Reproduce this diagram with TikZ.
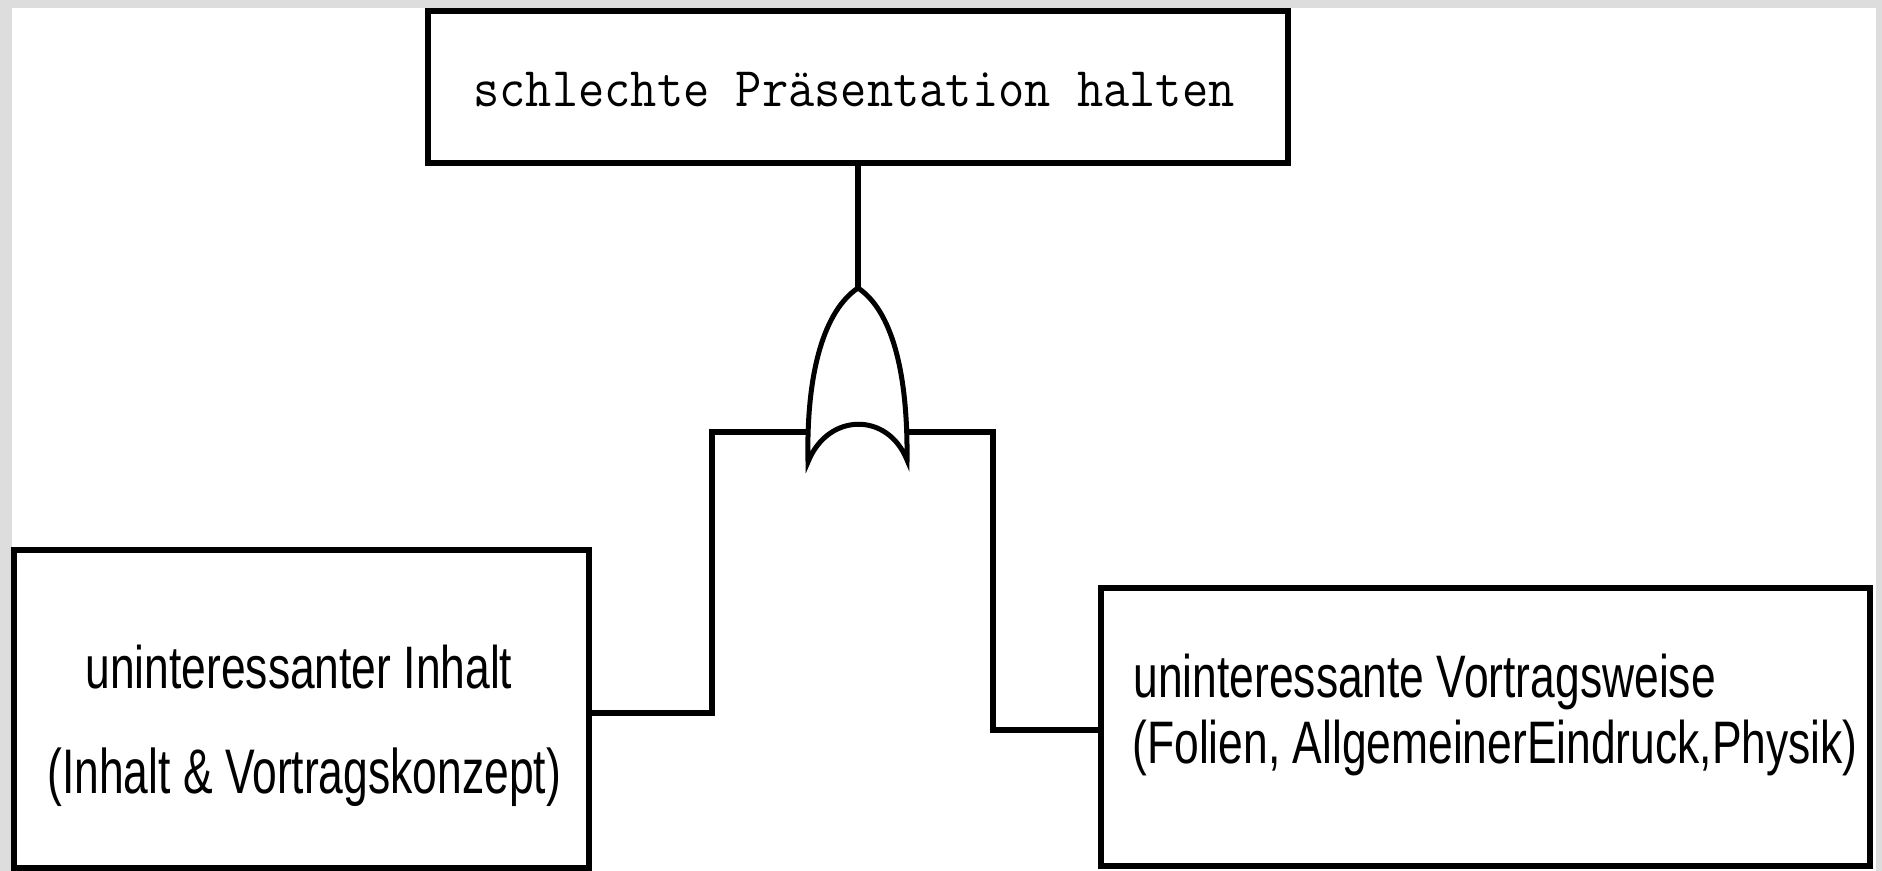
\documentclass[tikz,border=0pt]{standalone}
\usepackage{fontspec}
\usepackage{graphicx}
\newfontfamily\arialfont{Liberation Sans}
\definecolor{framegray}{RGB}{221,221,221}
\begin{document}
\begin{tikzpicture}[x=0.5pt,y=-0.5pt,
  box/.style={draw=black, line width=3pt, rectangle, inner sep=0pt, fill=white},
  conn/.style={line width=3pt, line join=miter},
  gateline/.style={line width=2.5pt, line join=miter},
  lbl/.style={inner sep=0pt, anchor=base west},
]
\useasboundingbox (0,0) rectangle (1882,871);
\fill[framegray] (0,0) rectangle (1882,871);
\fill[white] (12,8) rectangle (1876,871);

% boxes
\node[box, minimum width=430pt, minimum height=76pt] (top) at (858,87) {};
\node[box, minimum width=287.5pt, minimum height=159pt] (left) at (301.5,709) {};
\node[box, minimum width=384.5pt, minimum height=139pt] (right) at (1485.5,727) {};

% texts
\node[lbl, font=\ttfamily\fontsize{28pt}{30pt}\selectfont] (toptext) at (473,107) {\scalebox{0.91}[1]{schlechte Präsentation halten}};
\node[lbl, font=\arialfont\fontsize{30pt}{36pt}\selectfont] (leftA) at (85,688) {\scalebox{0.74}[1]{uninteressanter Inhalt}};
\node[lbl, font=\arialfont\fontsize{31.5pt}{36pt}\selectfont] (leftB) at (47,793) {\scalebox{0.705}[1]{(Inhalt \& Vortragskonzept)}};
\node[lbl, font=\arialfont\fontsize{30pt}{36pt}\selectfont] (rightA) at (1133,697) {\scalebox{0.74}[1]{uninteressante Vortragsweise}};
\node[lbl, font=\arialfont\fontsize{30pt}{36pt}\selectfont] (rightB) at (1132,763) {\scalebox{0.74}[1]{(Folien, AllgemeinerEindruck,Physik)}};

% OR gate
\coordinate (gapex) at (858,288);
\coordinate (gl) at (808,462);
\coordinate (gr) at (907,460);
\coordinate (gil) at (808,432);
\coordinate (gir) at (907,432);
\coordinate (kl) at (712,432);
\coordinate (kr) at (993,432);
\draw[gateline] (gl) .. controls (806,370) and (825,310) .. (gapex)
  .. controls (891,310) and (908,370) .. (gr)
  .. controls (888,412) and (828,412) .. (gl) -- cycle;

% connectors
\draw[conn] (top.south) -- (gapex);
\draw[conn] ([yshift=-2pt]left.east) -| (kl) -- (gil);
\draw[conn] (gir) -- (kr) |- ([yshift=-1.5pt]right.west);
\end{tikzpicture}
\end{document}
